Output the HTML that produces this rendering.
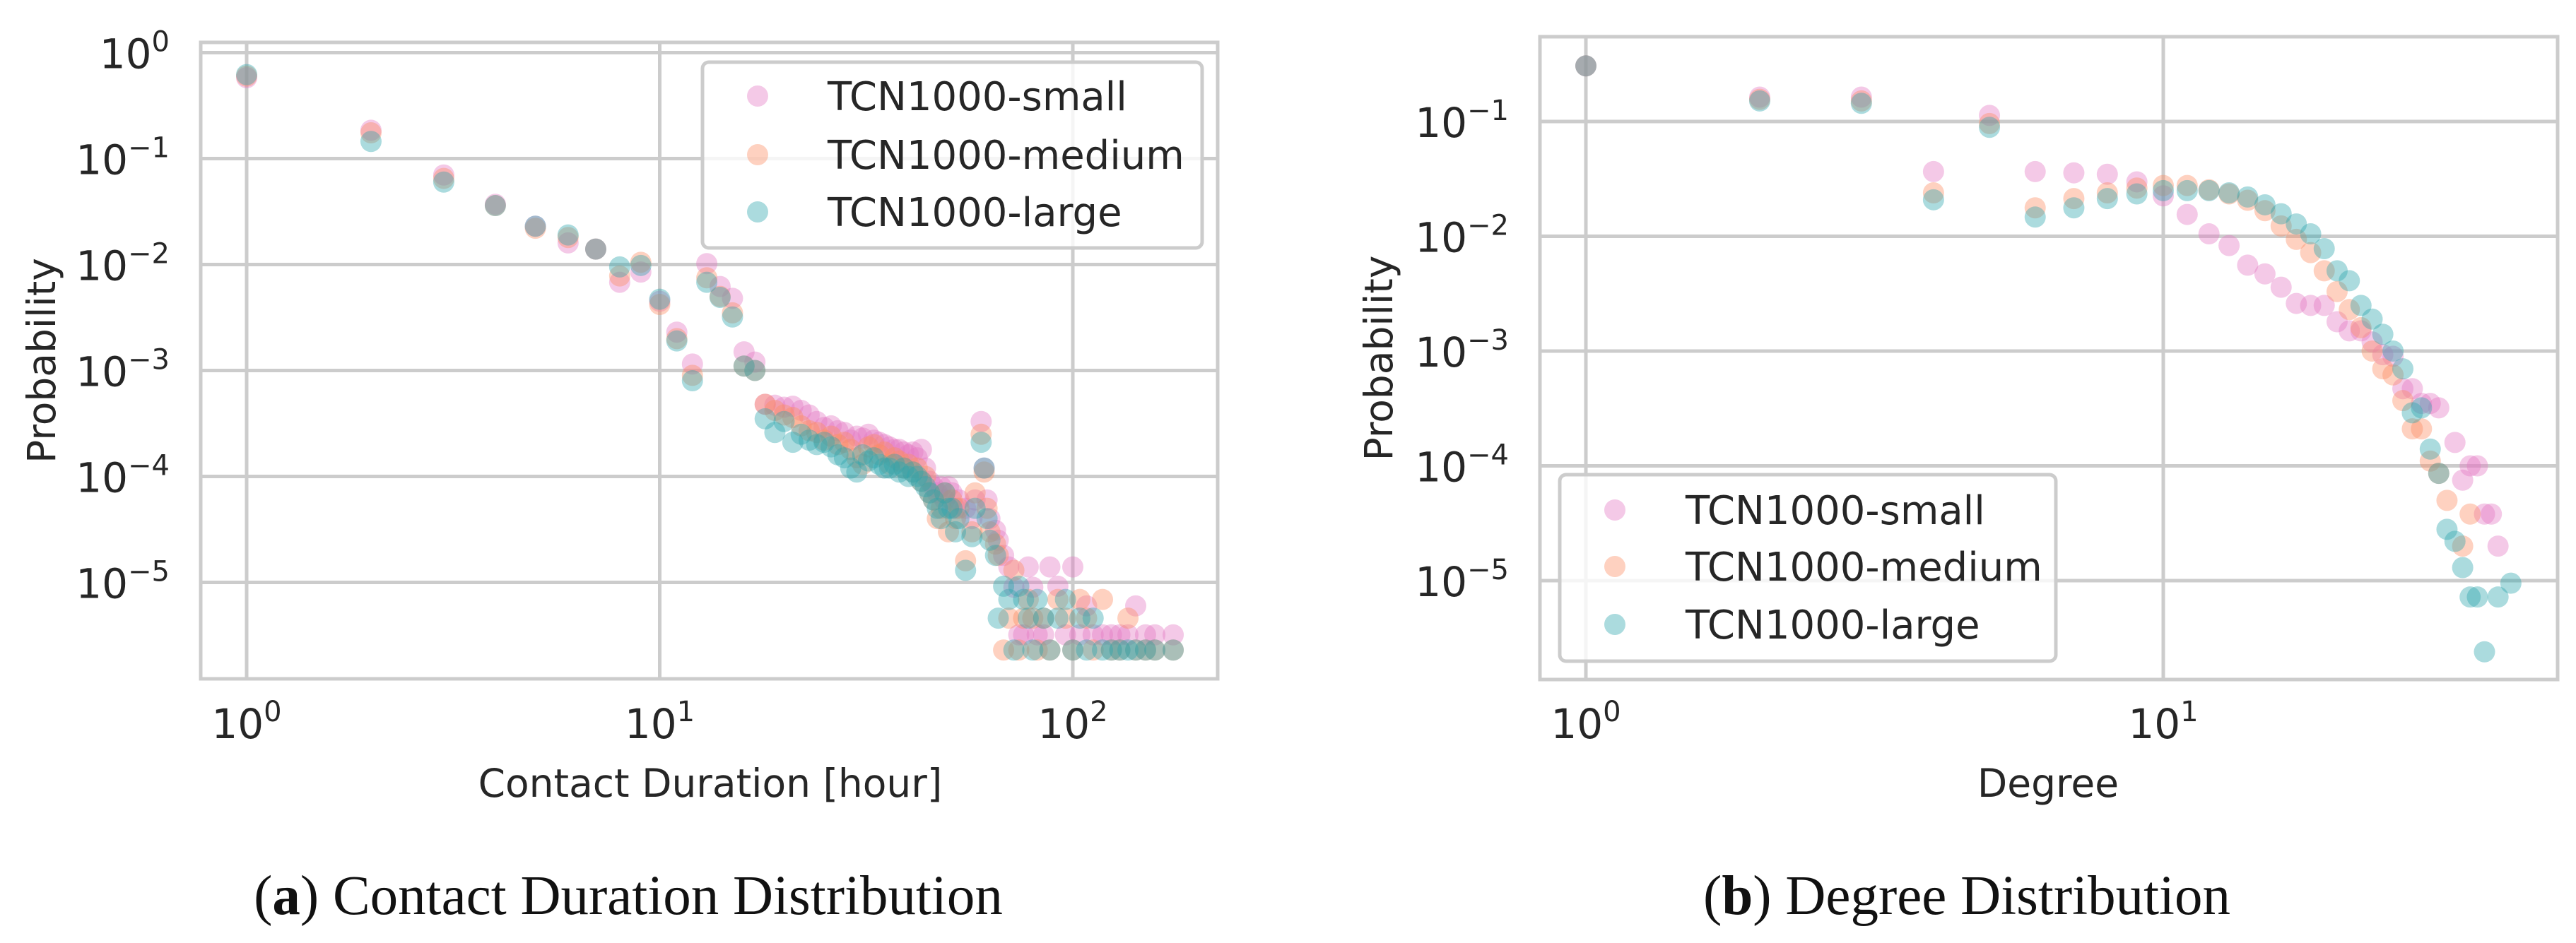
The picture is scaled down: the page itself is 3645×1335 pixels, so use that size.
<!DOCTYPE html>
<html><head><meta charset="utf-8">
<style>
html,body{margin:0;padding:0;background:#fff;}
svg{display:block;}
text{font-family:"DejaVu Sans","Liberation Sans",sans-serif;fill:#262626;}
.cap{font-family:"Liberation Serif",serif;fill:#111;}
</style></head>
<body>
<svg id="fig" width="3645" height="1335" viewBox="0 0 3645 1335" xmlns="http://www.w3.org/2000/svg">
  <g id="panelA"></g>
  <g id="panelB"></g>
  <text class="cap" x="889" y="1294" font-size="79" text-anchor="middle">(<tspan font-weight="bold">a</tspan>) Contact Duration Distribution</text>
  <text class="cap" x="2783" y="1294" font-size="79" text-anchor="middle">(<tspan font-weight="bold">b</tspan>) Degree Distribution</text>
</svg>
<script>
// ---- Panel A data: contact duration distribution ----
const durations = [1,2,3,4,5,6,7,8,9,10,11,12,13,14,15,16,17,18,19,20,21,22,23,24,25,26,27,28,29,30,31,32,33,34,35,36,37,38,39,40,41,42,43,44,45,46,47,48,49,50,51,52,53,55,57,58,60,61,62,63,65,66,68,70,72,74,76,78,80,82,85,88,92,96,100,104,108,112,118,124,130,136,142,150,158,175];
const durSmall = [0.58,0.185,0.07,0.037,0.023,0.016,0.014,0.0068,0.0085,0.0045,0.0023,0.00115,0.0102,0.0062,0.0048,0.0015,0.0012,
0.00048,0.00047,0.00045,0.00046,0.00042,0.00038,0.00033,0.00029,0.00030,0.00027,
0.00026,0.00022,0.00024,0.00023,0.00025,0.00022,0.00021,0.00020,0.00019,0.00018,
0.00018,0.00017,0.00016,0.00017,0.00015,0.00018,0.00012,0.00009,0.00008,0.00007,
0.00008,0.00006,0.00008,
0.00007,0.00005,0.00006,0.00005,0.00004,0.00006,0.00033,0.00012,0.00006,0.00004,
0.000031,0.000025,0.000018,0.000014,0.000009,0.0000032,0.0000032,0.000014,0.000009,0.0000032,
0.0000032,0.000014,0.0000092,0.0000032,0.000014,0.0000032,0.000006,0.0000032,0.0000032,0.0000032,
0.0000032,0.0000032,0.000006,0.0000032,0.0000032,0.0000032];
const durMedium = [0.6,0.175,0.065,0.036,0.022,0.018,0.014,0.0078,0.0105,0.0042,0.002,0.0009,0.0075,0.005,0.0035,0.0011,0.001,
0.00048,0.00042,0.00038,0.00036,0.00030,0.00027,0.00026,0.00022,0.00024,0.00020,
0.00021,0.00018,0.00015,0.00013,0.00019,0.00020,0.00016,0.00017,0.00013,0.00015,
0.00014,0.00012,0.00013,0.00011,0.00012,0.00009,0.00010,0.00007,0.00006,0.00004,
0.00005,0.00007,0.00003,
0.00006,0.00004,0.00005,0.000016,0.00003,0.00007,0.00025,0.00011,0.00005,0.00003,
0.000023,0.000018,0.0000023,0.0000046,0.000013,0.0000023,0.0000046,0.0000069,0.0000046,0.0000023,
0.0000046,0.0000023,0.0000069,0.0000046,0.0000023,0.0000069,0.0000046,0.0000023,0.0000069,0.0000023,
0.0000023,0.0000046,0.0000023,0.0000023,0.0000023,0.0000023];
const durLarge = [0.62,0.145,0.06,0.036,0.023,0.019,0.014,0.0095,0.0098,0.0047,0.0019,0.0008,0.0068,0.0049,0.0032,0.0011,0.001,
0.00035,0.00026,0.00033,0.00021,0.00025,0.00022,0.00020,0.00021,0.00019,0.00016,
0.00015,0.00012,0.00011,0.00016,0.00014,0.00015,0.00013,0.00012,0.00012,0.00013,
0.00011,0.00012,0.00010,0.00011,0.00010,0.00009,0.00008,0.00007,0.00006,0.00005,
0.00004,0.00007,0.00005,
0.00005,0.00003,0.00004,0.000013,0.000027,0.00005,0.00021,0.00012,0.00004,0.000025,
0.000018,0.0000046,0.0000092,0.0000069,0.0000023,0.0000092,0.0000069,0.0000046,0.0000023,0.0000069,
0.0000046,0.0000023,0.0000046,0.0000069,0.0000023,0.0000046,0.0000023,0.0000046,0.0000023,0.0000023,
0.0000023,0.0000023,0.0000023,0.0000023,0.0000023,0.0000023];

// ---- Panel B data: degree distribution ----
const degrees = [1,2,3,4,5,6,7,8,9,10,11,12,13,14,15,16,17,18,19,20,21,22,23,24,25,26,27,28,29,30,31,32,33,34,35,36,37,38,39,40];
const degSmall = [0.305,0.163,0.163,0.0366,0.113,0.0366,0.0357,0.0347,0.0298,0.0225,0.0155,0.0105,0.0083,0.0056,0.0047,0.0036,0.0026,0.0025,0.0025,0.0018,0.0015,0.0015,0.0012,0.00093,0.0009,0.00047,0.00047,0.00035,0.00035,0.00032,null,0.00016,0.000075,0.0001,0.0001,0.000038,0.000038,0.00002,null,null];
const degMedium = [0.305,0.156,0.151,0.0239,0.096,0.0177,0.0213,0.0239,0.0263,0.0277,0.0277,0.0254,0.0234,0.0206,0.0167,0.0123,0.0094,0.0072,0.005,0.0033,0.0023,0.0016,0.001,0.0007,0.00062,0.00037,0.00021,0.00021,0.00011,0.000086,0.00005,null,0.00002,0.000038,null,null,null,null,null,null];
const degLarge = [0.305,0.151,0.144,0.0208,0.089,0.0147,0.0177,0.0213,0.0234,0.025,0.025,0.025,0.0239,0.022,0.0188,0.0157,0.0128,0.0105,0.0078,0.005,0.0041,0.0025,0.0019,0.0014,0.001,0.0007,0.00029,0.00032,0.00014,0.000086,0.000028,0.000022,0.000013,0.0000072,0.0000072,0.0000024,null,0.0000072,null,0.0000095];

const seriesNames = ["TCN1000-small","TCN1000-medium","TCN1000-large"];
const seriesColors = ["#e377c2","#fc8d62","#2ca5ad"];
const yTickExps = [0,-1,-2,-3,-4,-5];

const NS = "http://www.w3.org/2000/svg";
function mk(tag, attrs, parent){
  const e = document.createElementNS(NS, tag);
  for (const k in attrs) e.setAttribute(k, attrs[k]);
  parent.appendChild(e);
  return e;
}
function tickLabel(parent, x, y, exp, anchor){
  const t = mk('text', {x:x, y:y, 'font-size':58, 'text-anchor':anchor}, parent);
  
  
  t.appendChild(document.createTextNode('10'));
  const s = document.createElementNS(NS,'tspan');
  s.setAttribute('font-size','40');
  s.setAttribute('dy','-24');
  s.textContent = (exp < 0 ? '\u2212' : '') + Math.abs(exp);
  t.appendChild(s);
}

function panel(g, cfg){
  const L=cfg.left, R=cfg.right, T=cfg.top, B=cfg.bottom;
  const sx = v => cfg.x0 + cfg.xdec*Math.log10(v);
  const sy = v => cfg.y0 - cfg.ydec*Math.log10(v);
  const grid = mk('g', {}, g);
  
  
  cfg.xTicks.forEach(e=>{
    const x = sx(Math.pow(10,e));
    const l = mk('line',{x1:x,x2:x,y1:T,y2:B,stroke:'#cccccc','stroke-width':5},grid);
    
    
    tickLabel(g, x, cfg.xLabelY, e, 'middle');
  });
  yTickExps.forEach(e=>{
    const y = sy(Math.pow(10,e));
    if (y < T-2 || y > B) return;
    const l = mk('line',{x1:L,x2:R,y1:y,y2:y,stroke:'#cccccc','stroke-width':5},grid);
    
    
    tickLabel(g, cfg.yLabelX, y+22, e, 'end');
  });
  const frame = mk('rect',{x:L,y:T,width:R-L,height:B-T,fill:'none',stroke:'#cccccc','stroke-width':5},g);
  
  
  cfg.series.forEach((ys,si)=>{
    const sg = mk('g',{},g);
    
    
    ys.forEach((v,i)=>{
      if (v===null) return;
      const c = mk('circle',{cx:sx(cfg.xs[i]),cy:sy(v),r:15,fill:seriesColors[si],'fill-opacity':0.4},sg);
      
      
    });
  });
  const yl = mk('text',{x:0,y:0,'font-size':55,'text-anchor':'middle',transform:`translate(${cfg.yTitleX},${(T+B)/2}) rotate(-90)`},g);
  
  
  yl.textContent = 'Probability';
  const xl = mk('text',{x:cfg.xTitleX,y:1128,'font-size':55,'text-anchor':'middle'},g);
  
  
  xl.textContent = cfg.xTitle;
  const lg = mk('g',{},g);
  
  
  const lb = cfg.legend;
  mk('rect',{x:lb.x,y:lb.y,width:lb.w,height:lb.h,rx:9,fill:'#fff','fill-opacity':0.8,stroke:'#cccccc','stroke-width':5},lg);
  seriesNames.forEach((n,i)=>{
    const y = lb.rows[i];
    const m = mk('circle',{cx:lb.mx,cy:y,r:15,fill:seriesColors[i],'fill-opacity':0.4},lg);
    
    
    const t = mk('text',{x:lb.tx,y:y+20,'font-size':56},lg);
    
    
    t.textContent = n;
  });
}

panel(document.getElementById('panelA'), {
  left:284,right:1723,top:60,bottom:961,
  x0:349,xdec:584.5,y0:74.5,ydec:150,
  xs:durations, series:[durSmall,durMedium,durLarge],
  xTicks:[0,1,2], xLabelY:1045, yLabelX:240, yTitleX:78,
  xTitle:'Contact Duration [hour]', xTitleX:1005,
  legend:{x:994,y:88,w:707,h:263,rows:[136,219,300],mx:1072,tx:1171}
});
panel(document.getElementById('panelB'), {
  left:2179,right:3619,top:52,bottom:962,
  x0:2244,xdec:817,y0:9.5,ydec:162.5,
  xs:degrees, series:[degSmall,degMedium,degLarge],
  xTicks:[0,1], xLabelY:1045, yLabelX:2135, yTitleX:1970,
  xTitle:'Degree', xTitleX:2898,
  legend:{x:2207,y:672,w:702,h:264,rows:[722,802,884],mx:2285,tx:2385}
});
</script>
</body></html>
